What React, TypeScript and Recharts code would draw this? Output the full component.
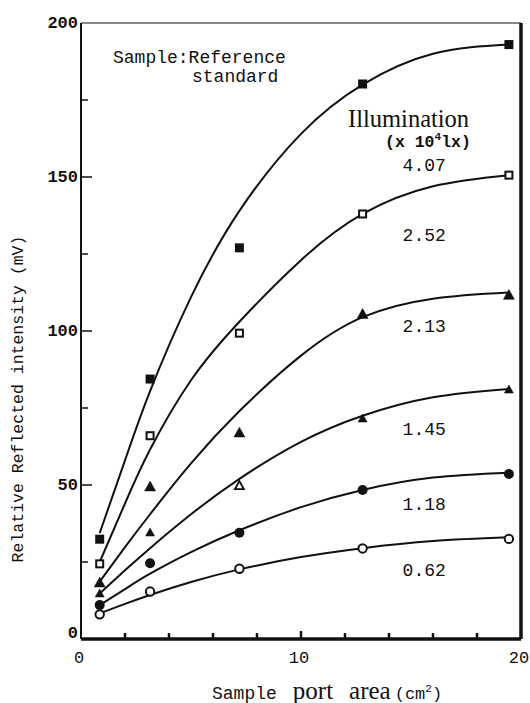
import { ComposedChart, Line, XAxis, YAxis, ReferenceLine, ReferenceDot } from 'recharts'

// port areas of the five sample ports (cm²), as placed on the figure
const portArea = [0.85, 3.14, 7.2, 12.8, 19.45]

// fitted curves at these areas
const fitArea = [0.85, 2, 3.14, 5, 7.2, 10, 12.8, 16, 19.45]
const fit407 = [34.4, 58, 80.5, 111, 139, 164, 180, 190, 193]
const fit252 = [25, 44, 61.5, 84, 103, 123, 138, 147, 150.6]
const fit213 = [18.6, 29.8, 40.5, 57, 74, 92, 104.5, 110.5, 112.5]
const fit145 = [14.8, 22.3, 29.5, 40.5, 52, 64, 72.5, 78.5, 81.2]
const fit118 = [11, 16.2, 21.2, 28.2, 35.3, 42.8, 48.4, 52.4, 54]
const fit062 = [8.3, 11.4, 14.3, 18.5, 22.6, 26.6, 29.5, 31.8, 33]

// measured points (one per port)
const pts407 = [32.4, 84.4, 127, 180.2, 193]
const pts252 = [24.4, 66, 99.3, 138, 150.6]
const pts213 = [18.3, 49.5, 67, 105.5, 111.7]
const pts145 = [14.8, 34.6, 49.8, 71.6, 81]
const pts118 = [11, 24.6, 34.5, 48.4, 53.6]
const pts062 = [8, 15.4, 22.8, 29.4, 32.5]

// illumination labels (x 10^4 lx) and where they sit on the plot
const illumLabels = ['4.07', '2.52', '2.13', '1.45', '1.18', '0.62']
const illumLabelY = [153.6, 131, 101.4, 67.9, 43.5, 22]
const illumLabelX = 15.6

const xTicks = [0, 2, 4, 6, 8, 10, 12, 14, 16, 18, 20]
const yTicks = [0, 25, 50, 75, 100, 125, 150, 175, 200]

const W = 530
const H = 703
const PLOT_LEFT = 81
const PLOT_BOTTOM = 639
const MONO = '"Liberation Mono", "DejaVu Sans Mono", monospace'
const SERIF = '"Liberation Serif", "DejaVu Serif", serif'
const INK = '#111'

const at = (arr: number[], x: number) => {
	const i = portArea.indexOf(x)
	return i < 0 ? undefined : arr[i]
}

const rows = fitArea.map((x, i) => ({
	x,
	fit407: fit407[i],
	fit252: fit252[i],
	fit213: fit213[i],
	fit145: fit145[i],
	fit118: fit118[i],
	fit062: fit062[i],
	pts407: at(pts407, x),
	pts252: at(pts252, x),
	pts213: at(pts213, x),
	pts145: at(pts145, x),
	pts118: at(pts118, x),
	pts062: at(pts062, x),
}))

function XTick({ x, payload }: any) {
	const v = payload.value
	const major = v % 10 === 0
	return (
		<g>
			{v > 0 && v < 20 && (
				<line x1={x} x2={x} y1={PLOT_BOTTOM} y2={PLOT_BOTTOM - (major ? 8 : 6)} stroke={INK} strokeWidth={2.5} />
			)}
			{major && (
				<text x={x - 2} y={PLOT_BOTTOM + 24} textAnchor="middle" fontFamily={MONO} fontSize={17} fill={INK}>
					{v}
				</text>
			)}
		</g>
	)
}

function YTick({ y, payload }: any) {
	const v = payload.value
	const major = v % 50 === 0
	return (
		<g>
			{v > 0 && v < 200 && (
				<line x1={PLOT_LEFT} x2={PLOT_LEFT + (major ? 11 : 7)} y1={y} y2={y} stroke={INK} strokeWidth={1.5} />
			)}
			{major && (
				<text
					x={PLOT_LEFT - 3}
					y={v === 0 ? y - 6 : y}
					textAnchor="end"
					dominantBaseline="central"
					fontFamily={MONO}
					fontSize={17}
					fontWeight={600}
					fill={INK}
				>
					{v}
				</text>
			)}
		</g>
	)
}

type Kind = 'sqFill' | 'sqOpen' | 'triFill' | 'triSmall' | 'dotFill' | 'dotOpen'

function marker(kind: Kind) {
	return (p: any) => {
		const { cx, cy, index, value } = p
		const key = `${kind}-${index}`
		if (cx == null || cy == null || value == null) return <g key={key} />
		if (kind === 'sqFill') return <rect key={key} x={cx - 4.5} y={cy - 4.5} width={9} height={9} fill={INK} />
		if (kind === 'sqOpen')
			return <rect key={key} x={cx - 3.5} y={cy - 3.5} width={7} height={7} fill="#fff" stroke={INK} strokeWidth={2} />
		if (kind === 'triFill' || kind === 'triSmall') {
			const s = kind === 'triFill' ? 5.5 : 4.5
			// the 1.45 point at the middle port is drawn hollow in the figure
			const hollow = kind === 'triSmall' && p.payload?.x === portArea[2]
			return (
				<polygon
					key={key}
					points={`${cx},${cy - s} ${cx - s},${cy + s * 0.8} ${cx + s},${cy + s * 0.8}`}
					fill={hollow ? '#fff' : INK}
					stroke={INK}
					strokeWidth={hollow ? 1.8 : 0.5}
				/>
			)
		}
		if (kind === 'dotFill') return <circle key={key} cx={cx} cy={cy} r={5} fill={INK} />
		return <circle key={key} cx={cx} cy={cy} r={4.2} fill="#fff" stroke={INK} strokeWidth={2} />
	}
}

const curves = ['fit407', 'fit252', 'fit213', 'fit145', 'fit118', 'fit062']
const points: [string, Kind][] = [
	['pts407', 'sqFill'],
	['pts252', 'sqOpen'],
	['pts213', 'triFill'],
	['pts145', 'triSmall'],
	['pts118', 'dotFill'],
	['pts062', 'dotOpen'],
]

export default function App() {
	return (
		<div style={{ position: 'absolute', left: 0, top: 0, width: W, height: H, background: '#fff' }}>
			<ComposedChart
				width={W}
				height={H}
				data={rows}
				margin={{ top: 23, right: 9, bottom: 34, left: 0 }}
			>
				<XAxis
					dataKey="x"
					type="number"
					domain={[0, 20]}
					ticks={xTicks}
					interval={0}
					tickLine={false}
					tick={<XTick />}
					axisLine={{ stroke: INK, strokeWidth: 3.5 }}
					height={30}
				/>
				<YAxis
					type="number"
					domain={[0, 200]}
					ticks={yTicks}
					interval={0}
					tickLine={false}
					tick={<YTick />}
					axisLine={{ stroke: INK, strokeWidth: 2 }}
					width={PLOT_LEFT}
				/>
				<ReferenceLine y={200} stroke={INK} strokeWidth={1.2} />
				<ReferenceLine x={20} stroke={INK} strokeWidth={3.5} />
				{curves.map((k) => (
					<Line
						key={k}
						dataKey={k}
						type="natural"
						stroke={INK}
						strokeWidth={2}
						dot={false}
						activeDot={false}
						isAnimationActive={false}
					/>
				))}
				{points.map(([k, kind]) => (
					<Line
						key={k}
						dataKey={k}
						stroke="none"
						dot={marker(kind)}
						activeDot={false}
						isAnimationActive={false}
					/>
				))}
				{illumLabels.map((t, i) => (
					<ReferenceDot
						key={t}
						x={illumLabelX}
						y={illumLabelY[i]}
						r={0}
						fill="none"
						stroke="none"
						label={{
							content: ({ viewBox }: any) => (
								<text
									x={viewBox.x + viewBox.width / 2}
									y={viewBox.y + viewBox.height / 2}
									textAnchor="middle"
									dominantBaseline="central"
									fontFamily={MONO}
									fontSize={18}
									fill={INK}
								>
									{t}
								</text>
							),
						}}
					/>
				))}
			</ComposedChart>
			<svg width={W} height={H} style={{ position: 'absolute', left: 0, top: 0, pointerEvents: 'none' }}>
				<text x={113} y={63} fontFamily={MONO} fontSize={18} fill={INK}>
					Sample:Reference
				</text>
				<text x={192} y={82} fontFamily={MONO} fontSize={18} fill={INK}>
					standard
				</text>
				<text x={348} y={127} fontFamily={SERIF} fontSize={24.5} fill={INK}>
					Illumination
				</text>
				<text x={385} y={147} fontFamily={MONO} fontSize={16.5} fontWeight={700} fill={INK}>
					(x 10
					<tspan fontSize={11} dy={-7}>
						4
					</tspan>
					<tspan dy={7}>lx)</tspan>
				</text>
				<text
					transform="translate(18,399) rotate(-90)"
					textAnchor="middle"
					dominantBaseline="central"
					fontFamily={MONO}
					fontSize={16.5}
					fill={INK}
				>
					Relative Reflected intensity (mV)
				</text>
				<text x={212} y={699} fontFamily={MONO} fontSize={18} fill={INK}>
					Sample
					<tspan fontFamily={SERIF} fontSize={25} dx={16}>
						port
					</tspan>
					<tspan fontFamily={SERIF} fontSize={25} dx={16}>
						area
					</tspan>
					<tspan fontSize={17} dx={4}>
						(cm
					</tspan>
					<tspan fontSize={11} dy={-7}>
						2
					</tspan>
					<tspan fontSize={17} dy={7}>
						)
					</tspan>
				</text>
			</svg>
		</div>
	)
}
